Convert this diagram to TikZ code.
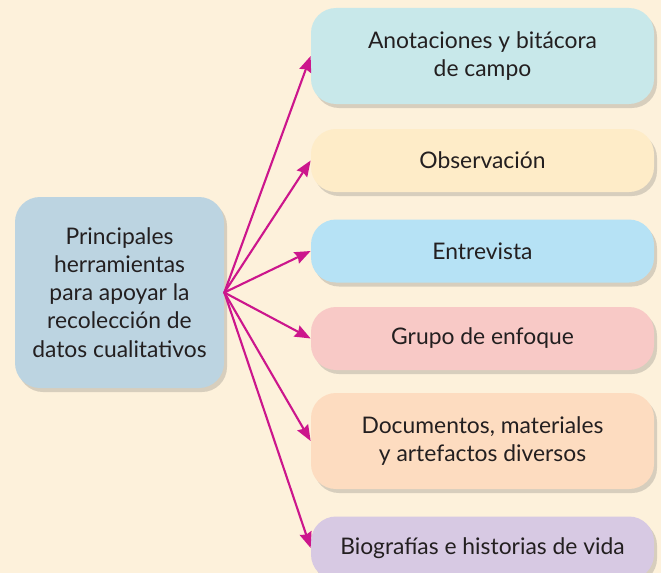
\documentclass[tikz,border=0pt]{standalone}
\usepackage{fontspec}
\setmainfont{Lato}
\usetikzlibrary{arrows.meta,shadows}
\definecolor{fondo}{RGB}{253,241,219}
\definecolor{texto}{RGB}{35,31,32}
\definecolor{flecha}{RGB}{204,22,140}
\definecolor{cajaizq}{RGB}{188,212,225}
\definecolor{cajaA}{RGB}{200,232,234}
\definecolor{cajaB}{RGB}{254,236,200}
\definecolor{cajaC}{RGB}{182,226,245}
\definecolor{cajaD}{RGB}{248,201,198}
\definecolor{cajaE}{RGB}{253,220,192}
\definecolor{cajaF}{RGB}{215,201,227}
\tikzset{
    caja/.style={
        rounded corners=0.5cm, align=center, text=texto,
        font=\fontsize{13}{16}\selectfont,
        drop shadow={shadow xshift=0.06cm, shadow yshift=-0.08cm, opacity=0.25, fill=black!60}
    },
    derecha/.style={
        caja, minimum width=6.86cm, minimum height=1.26cm
    },
    flechita/.style={
        draw=flecha, line width=1.2pt,
        -{Stealth[length=9pt,width=7pt,inset=1pt]}
    }
}

\begin{document}
\begin{tikzpicture}[line cap=round,line join=round]

% --- background (661 x 573 px at 0.02 cm per px) ---
    \fill[fondo] (0,0) rectangle (13.22,-11.46);
    \useasboundingbox (0,0) rectangle (13.22,-11.46);

% central box
    \node[caja, fill=cajaizq, minimum width=4.18cm, minimum height=3.82cm] (centro) at (2.39,-5.85)
        {Principales\\herramientas\\para apoyar la\\recolección de\\datos cualitativos};

% boxes on the right
    \node[derecha, fill=cajaA, minimum height=1.92cm] (anota) at (9.65,-1.12) {Anotaciones y bitácora\\de campo};
    \node[derecha, fill=cajaB] (obser) at (9.65,-3.21) {Observación};
    \node[derecha, fill=cajaC] (entre) at (9.65,-5.02) {Entrevista};
    \node[derecha, fill=cajaD] (grupo) at (9.65,-6.77) {Grupo de enfoque};
    \node[derecha, fill=cajaE, minimum height=1.92cm] (docum) at (9.65,-8.82) {Documentos, materiales\\y artefactos diversos};
    \node[derecha, fill=cajaF] (biogr) at (9.65,-10.96) {Biografías e historias de vida};

% arrows
    \foreach \destino in {anota,obser,entre,grupo,docum,biogr}
        \draw[flechita] (centro.east) -- (\destino.west);

\end{tikzpicture}
\end{document}
